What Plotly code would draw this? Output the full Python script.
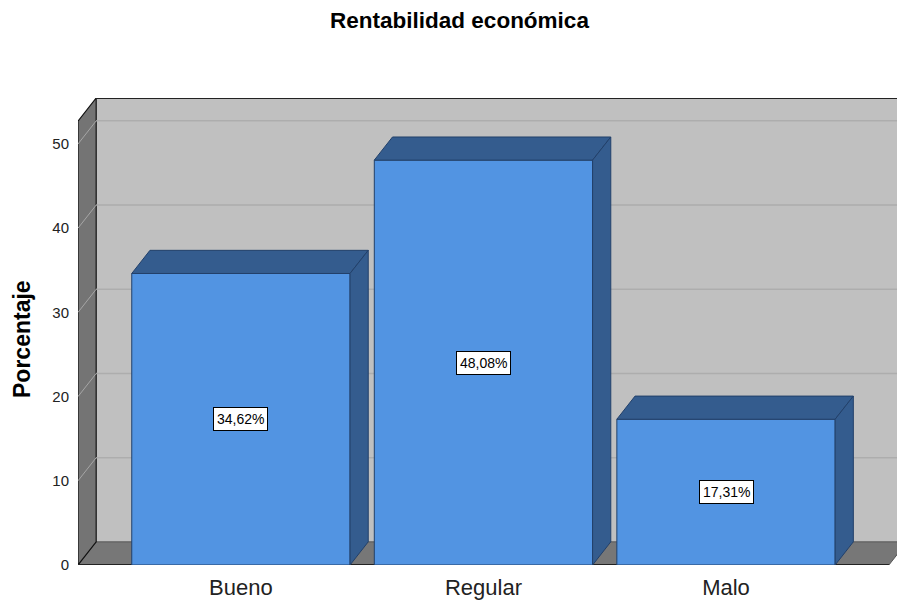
import plotly.graph_objects as go

categorias = ["Bueno", "Regular", "Malo"]
porcentajes = [34.62, 48.08, 17.31]
etiquetas = ["34,62%", "48,08%", "17,31%"]
ticks_y = [0, 10, 20, 30, 40, 50]

# geometry of the fake 3D box (data units)
ancho = 0.9
dx = 0.075
dy = 2.75
x_min, x_max = -0.6716, 2.6716
x_fin = 2.705
y_max = 55.46

FRENTE = "#5294e2"
OSCURO = "#345c8e"
BORDE = "#22406a"
PARED = "#c0c0c0"
GRIS = "#777777"

fig = go.Figure()

# front faces
fig.add_trace(go.Bar(
    x=list(range(len(categorias))), y=porcentajes, width=ancho,
    marker=dict(color=FRENTE, line=dict(color=BORDE, width=1)),
    hoverinfo="skip", showlegend=False,
))

# top and side faces
for i, v in enumerate(porcentajes):
    l, r = i - ancho / 2, i + ancho / 2
    fig.add_trace(go.Scatter(
        x=[l, r, r + dx, l + dx, l], y=[v, v, v + dy, v + dy, v],
        fill="toself", fillcolor=OSCURO, mode="lines",
        line=dict(color=BORDE, width=1), hoverinfo="skip", showlegend=False,
    ))
    fig.add_trace(go.Scatter(
        x=[r, r + dx, r + dx, r, r], y=[0, dy, v + dy, v, 0],
        fill="toself", fillcolor=OSCURO, mode="lines",
        line=dict(color=BORDE, width=1), hoverinfo="skip", showlegend=False,
    ))

shapes = []
# back wall
shapes.append(dict(type="rect", xref="x", yref="y", x0=x_min + dx, x1=x_fin + 0.1,
                   y0=dy, y1=y_max, fillcolor=PARED, line=dict(width=0), layer="below"))
# floor
shapes.append(dict(type="path", xref="x", yref="y",
                   path=f"M {x_min},0 L {x_max},0 L {x_max + dx},{dy} L {x_min + dx},{dy} Z",
                   fillcolor=GRIS, line=dict(color="#555555", width=1), layer="below"))
# left wall
shapes.append(dict(type="path", xref="x", yref="y",
                   path=f"M {x_min},0 L {x_min},{y_max - dy} L {x_min + dx},{y_max} L {x_min + dx},{dy} Z",
                   fillcolor="#747474", line=dict(color="#111111", width=1.2), layer="below"))
# gridlines
for t in ticks_y[1:]:
    shapes.append(dict(type="line", xref="x", yref="y", x0=x_min + dx, x1=x_fin + 0.1,
                       y0=t + dy, y1=t + dy, line=dict(color="#adadad", width=1.5), layer="below"))
    shapes.append(dict(type="line", xref="x", yref="y", x0=x_min, x1=x_min + dx,
                       y0=t, y1=t + dy, line=dict(color="#a6a6a6", width=1), layer="below"))
# outlines
shapes.append(dict(type="line", xref="x", yref="y", x0=x_min + dx, x1=x_fin + 0.1,
                   y0=y_max, y1=y_max, line=dict(color="#222222", width=2), layer="below"))
shapes.append(dict(type="line", xref="x", yref="y", x0=x_min, x1=x_max,
                   y0=0, y1=0, line=dict(color="#222222", width=2), layer="below"))
fig.update_layout(shapes=shapes)

for i, (v, txt) in enumerate(zip(porcentajes, etiquetas)):
    fig.add_annotation(x=i, y=v / 2, text=txt, showarrow=False,
                       font=dict(family="Arial, Liberation Sans", size=14, color="black"),
                       bgcolor="white", bordercolor="black", borderwidth=1, borderpad=3)

# y axis title placed by hand
fig.add_annotation(xref="paper", yref="paper", x=(22 - 78) / 819, y=(565 - 339) / 467,
                   text="<b>Porcentaje</b>", textangle=-90, showarrow=False,
                   xanchor="center", yanchor="middle",
                   font=dict(family="Arial, Liberation Sans", size=23, color="black"))

fig.update_layout(
    width=897, height=604,
    margin=dict(l=78, r=0, t=98, b=39),
    paper_bgcolor="white", plot_bgcolor="white",
    font=dict(family="Arial, Liberation Sans", color="black"),
    title=dict(text="<b>Rentabilidad económica</b>", x=459.5 / 897, xanchor="center",
               y=1 - 20 / 604, yanchor="middle", font=dict(size=22.5)),
    xaxis=dict(range=[x_min, x_fin], tickvals=list(range(len(categorias))),
               ticktext=categorias, showgrid=False, zeroline=False, showline=False,
               ticks="outside", ticklen=3, tickcolor="rgba(0,0,0,0)", automargin=False,
               tickfont=dict(size=22, color="#222222")),
    yaxis=dict(range=[0, y_max], tickvals=ticks_y, showgrid=False, zeroline=False,
               showline=False, ticks="outside", ticklen=5, tickcolor="rgba(0,0,0,0)",
               automargin=False, tickfont=dict(size=15, color="#222222")),
)

# drop the default page margin so the figure sits at the window's corner
fig.write_html("out.html", config={"displayModeBar": False}, post_script=(
    "document.body.style.margin='0px';"
    "document.documentElement.style.overflow='hidden';"
))
